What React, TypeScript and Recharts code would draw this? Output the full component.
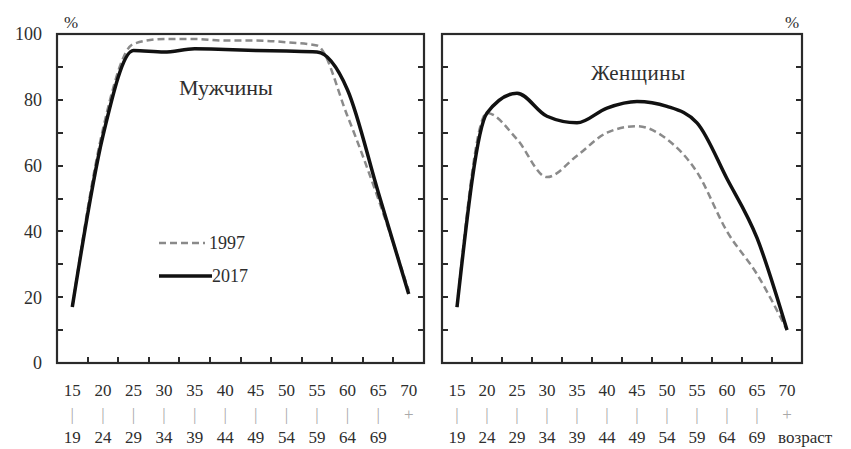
import React from 'react';
import { LineChart, Line, XAxis, YAxis, Legend, ReferenceArea } from 'recharts';

// ---- data ----
const ageFrom = ['15', '20', '25', '30', '35', '40', '45', '50', '55', '60', '65', '70'];
const ageSep = ['|', '|', '|', '|', '|', '|', '|', '|', '|', '|', '|', '+'];
const ageTo = ['19', '24', '29', '34', '39', '44', '49', '54', '59', '64', '69', ''];
const yTicks = [0, 10, 20, 30, 40, 50, 60, 70, 80, 90, 100];
const yInner = [10, 20, 30, 40, 50, 60, 70, 80, 90];
const bandTicks = [0.5, 1.5, 2.5, 3.5, 4.5, 5.5, 6.5, 7.5, 8.5, 9.5, 10.5, 11.5];
const bandEdges = [1, 2, 3, 4, 5, 6, 7, 8, 9, 10, 11];

const men1997 = [17, 71, 97, 98.5, 98.5, 98, 98, 97.5, 96.5, 75, 50, 22];
const men2017 = [17, 69, 95, 94.5, 95.5, 95.3, 95, 94.8, 94.5, 83, 52, 21];
const women1997 = [17, 76, 68, 56.5, 63, 70, 72, 68, 58, 40, 27, 10];
const women2017 = [17, 76, 82, 75, 73, 77.5, 79.5, 78, 73, 56, 38, 10];

const seriesNames = ['1997', '2017'];
const panelTitles = ['Мужчины', 'Женщины'];
const axisUnit = '%';
const axisName = 'возраст';

const buildRows = (a: number[], b: number[]) =>
  ageFrom.map((f, i) => ({ x: i + 0.5, y1997: a[i], y2017: b[i] }));

const menRows = buildRows(men1997, men2017);
const womenRows = buildRows(women1997, women2017);

// ---- styles ----
const FONT = '"Liberation Serif", "Times New Roman", serif';
const FRAME = '#2a2a2a';
const TEXT = '#2e2e2e';
const DASH = '#8a8a8a';
const SOLID = '#111111';
const TICK_PX = 6;
const TICK_W = 2;

const XTick = (props: any) => {
  const { x, y, payload } = props;
  const i = Math.floor(payload.value);
  return (
    <g>
      <text x={x} y={y + 33} textAnchor="middle" fontFamily={FONT} fontSize={17} fill={TEXT}>
        {ageFrom[i]}
      </text>
      <text x={x} y={y + 57} textAnchor="middle" fontFamily={FONT} fontSize={17} fill="#a8a8a8" opacity={0.99}>
        {ageSep[i]}
      </text>
      <text x={x} y={y + 80} textAnchor="middle" fontFamily={FONT} fontSize={17} fill={TEXT}>
        {ageTo[i]}
      </text>
    </g>
  );
};

const makeYTick = (side: 'left' | 'right', labels: boolean) => (props: any) => {
  const { x, y, payload } = props;
  const v = payload.value as number;
  if (!labels || v % 20 !== 0) return <g />;
  return (
    <text
      x={side === 'left' ? x - 15 : x + 18}
      y={y}
      dy="0.35em"
      textAnchor={side === 'left' ? 'end' : 'start'}
      fontFamily={FONT}
      fontSize={18}
      fill={TEXT}
    >
      {v}
    </text>
  );
};

// frame of the plot area with inward ticks, drawn from the reference-area box
const FrameShape = (props: any) => {
  const x = Number(props.x);
  const y = Number(props.y);
  const width = Number(props.width);
  const height = Number(props.height);
  const bottom = y + height;
  const right = x + width;
  return (
    <g>
      {bandEdges.map((k) => {
        const px = Math.round(x + (k / 12) * width);
        return (
          <rect key={`bx${k}`} x={px - TICK_W / 2} y={bottom - TICK_PX} width={TICK_W} height={TICK_PX} fill={FRAME} />
        );
      })}
      {yInner.map((v) => {
        const py = Math.round(bottom - (v / 100) * height);
        return (
          <g key={`yt${v}`}>
            <rect x={x} y={py - TICK_W / 2} width={TICK_PX} height={TICK_W} fill={FRAME} />
            <rect x={right - TICK_PX} y={py - TICK_W / 2} width={TICK_PX} height={TICK_W} fill={FRAME} />
          </g>
        );
      })}
      <rect x={x} y={y} width={width} height={height} fill="none" stroke={FRAME} strokeWidth={2.2} />
    </g>
  );
};

const LegendBox = () => (
  <svg width={130} height={64} style={{ overflow: 'visible' }}>
    <line x1={9} x2={55} y1={15} y2={15} stroke={DASH} strokeWidth={2.5} strokeDasharray="7 4" />
    <text x={59} y={15} dy="0.35em" fontFamily={FONT} fontSize={18} fill={TEXT}>
      {seriesNames[0]}
    </text>
    <line x1={9} x2={62} y1={48} y2={48} stroke={SOLID} strokeWidth={3.5} />
    <text x={62} y={48} dy="0.35em" fontFamily={FONT} fontSize={18} fill={TEXT}>
      {seriesNames[1]}
    </text>
  </svg>
);

type PanelProps = {
  rows: any[];
  width: number;
  leftW: number;
  rightW: number;
  labelsSide: 'left' | 'right';
  legend?: boolean;
};

const Panel = ({ rows, width, leftW, rightW, labelsSide, legend }: PanelProps) => (
  <LineChart width={width} height={449} data={rows} margin={{ top: 34, right: 0, bottom: 0, left: 0 }}>
    <XAxis
      xAxisId="b"
      type="number"
      dataKey="x"
      domain={[0, 12]}
      ticks={bandTicks}
      interval={0}
      height={86}
      tickSize={0}
      tickMargin={0}
      tickLine={false}
      axisLine={false}
      tick={XTick}
    />
    <YAxis
      yAxisId="l"
      type="number"
      domain={[0, 100]}
      ticks={yTicks}
      interval={0}
      width={leftW}
      tickSize={0}
      tickMargin={0}
      tickLine={false}
      axisLine={false}
      tick={makeYTick('left', labelsSide === 'left')}
    />
    <YAxis
      yAxisId="r"
      orientation="right"
      type="number"
      domain={[0, 100]}
      ticks={yTicks}
      interval={0}
      width={rightW}
      tickSize={0}
      tickMargin={0}
      tickLine={false}
      axisLine={false}
      tick={makeYTick('right', labelsSide === 'right')}
    />
    <ReferenceArea
      xAxisId="b"
      yAxisId="l"
      x1={0}
      x2={12}
      y1={0}
      y2={100}
      ifOverflow="visible"
      shape={FrameShape}
    />
    <Line
      xAxisId="b"
      yAxisId="l"
      type="monotone"
      dataKey="y1997"
      name={seriesNames[0]}
      stroke={DASH}
      strokeWidth={2.5}
      strokeDasharray="7 4"
      dot={false}
      activeDot={false}
      isAnimationActive={false}
    />
    <Line
      xAxisId="b"
      yAxisId="l"
      type="monotone"
      dataKey="y2017"
      name={seriesNames[1]}
      stroke={SOLID}
      strokeWidth={3.5}
      dot={false}
      activeDot={false}
      isAnimationActive={false}
    />
    {legend && (
      <Legend
        layout="horizontal"
        verticalAlign="middle"
        align="center"
        wrapperStyle={{ position: 'absolute', left: 150, top: 228, width: 130, height: 64 }}
        content={() => <LegendBox />}
      />
    )}
  </LineChart>
);

const abs = (left: number, top: number, extra: React.CSSProperties = {}): React.CSSProperties => ({
  position: 'absolute',
  left,
  top,
  fontFamily: FONT,
  color: TEXT,
  whiteSpace: 'nowrap',
  lineHeight: 1,
  ...extra,
});

export default function App() {
  return (
    <div style={{ position: 'absolute', left: 0, top: 0, width: 851, height: 449, background: '#fff', overflow: 'hidden' }}>
      <div style={{ position: 'absolute', left: 0, top: 0 }}>
        <Panel rows={menRows} width={430} leftW={57} rightW={6} labelsSide="left" legend />
      </div>
      <div style={{ position: 'absolute', left: 430, top: 0 }}>
        <Panel rows={womenRows} width={421} leftW={12} rightW={49} labelsSide="right" />
      </div>
      <div style={abs(64, 14, { fontSize: 17 })}>{axisUnit}</div>
      <div style={abs(785, 14, { fontSize: 17 })}>{axisUnit}</div>
      <div style={abs(179, 77, { fontSize: 22 })}>{panelTitles[0]}</div>
      <div style={abs(591, 63, { fontSize: 21, letterSpacing: 0.5 })}>{panelTitles[1]}</div>
      <div style={abs(778, 429, { fontSize: 17 })}>{axisName}</div>
    </div>
  );
}
